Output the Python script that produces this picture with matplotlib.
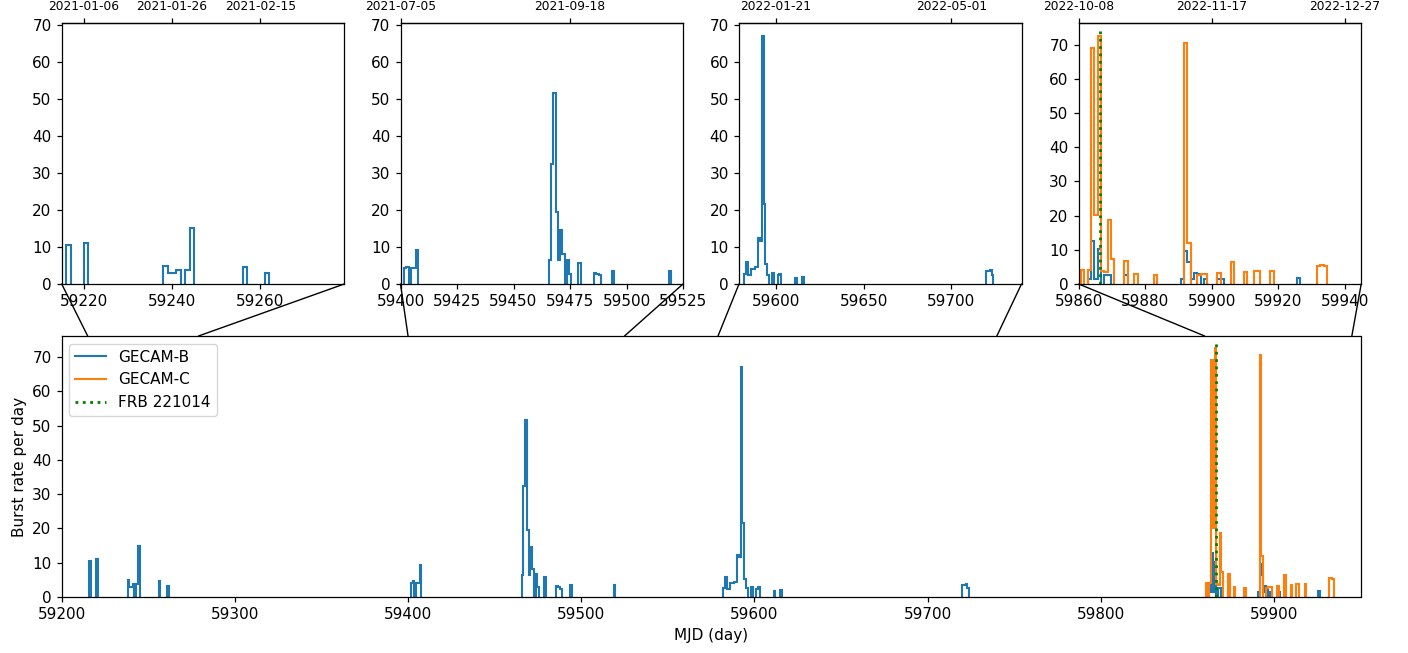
import numpy as np
import matplotlib
matplotlib.use("Agg")
import matplotlib.pyplot as plt
from matplotlib.patches import ConnectionPatch

plt.rcParams["font.family"] = ["DejaVu Sans"]
plt.rcParams["font.size"] = 11
plt.rcParams["axes.linewidth"] = 0.9
plt.rcParams["xtick.major.width"] = 0.9
plt.rcParams["ytick.major.width"] = 0.9
plt.rcParams["xtick.major.size"] = 3.8
plt.rcParams["ytick.major.size"] = 3.8

# ---------------- data (1-day bins, rate per day) ----------------
# GECAM-B episodes: bin start (MJD), day offsets of non-empty bins, rates
B1_start = 59216.0
B1_offsets = [0, 4, 22, 23, 24, 25, 27, 28, 40, 45]
B1_rates = [10.4, 11.2, 4.9, 3.0, 3.0, 3.8, 3.7, 15.0, 4.7, 3.1]

B2_start = 59401.65
B2_offsets = [0, 1, 3, 4, 5, 64, 65, 66, 67, 68, 69, 70, 72, 73, 77, 84, 85, 86, 92, 117]
B2_rates = [4.2, 4.6, 4.2, 4.2, 9.3, 6.5, 32.3, 51.5, 19.4, 6.5, 14.7, 8.1, 6.6, 2.8,
            5.8, 3.1, 2.8, 2.4, 3.6, 3.5]

B3_start = 59582.04
B3_offsets = [0, 1, 2, 3, 4, 5, 6, 7, 8, 9, 10, 11, 12, 13, 16, 19, 20, 29, 33,
              138, 139, 140, 141]
B3_rates = [2.7, 5.9, 2.4, 2.4, 4.0, 4.0, 4.5, 4.5, 12.3, 11.6, 67.0, 21.7, 5.3, 2.5,
            2.9, 2.3, 2.8, 1.7, 2.0, 3.6, 3.4, 3.9, 2.5]

B4_start = 59860.7
B4_offsets = [2, 3, 4, 5, 7, 8, 13, 30, 31, 32, 33, 34, 35, 37, 41, 42, 65]
B4_rates = [1.4, 12.7, 1.4, 10.2, 2.7, 2.7, 2.7, 1.5, 9.6, 6.3, 1.6, 3.1, 3.0, 1.5,
            1.6, 1.6, 1.7]

# GECAM-C
C_start = 59860.7
C_offsets = [0, 2, 3, 4, 5, 6, 7, 8, 9, 13, 16, 22, 31, 32, 35, 36, 37, 41, 45, 49,
             52, 53, 57, 71, 72, 73]
C_rates = [4.0, 4.0, 69.0, 20.2, 72.5, 3.7, 3.5, 18.7, 7.3, 6.6, 3.0, 2.7, 70.5, 12.0,
           2.7, 2.8, 2.9, 3.1, 6.4, 3.5, 3.7, 3.9, 3.9, 5.4, 5.5, 5.2]

FRB_MJD = 59866.44
FRB_TOP = 75.0

main_xlim = (59200, 59950)
main_ylim = (0, 76.1)
main_xticks = [59200, 59300, 59400, 59500, 59600, 59700, 59800, 59900]

inset_xlims = [(59215, 59279), (59400, 59525), (59579, 59740), (59860, 59945)]
inset_ylims = [(0, 70.4), (0, 70.4), (0, 70.4), (0, 76.2)]
inset_xticks = [[59220, 59240, 59260],
                [59400, 59425, 59450, 59475, 59500, 59525],
                [59600, 59650, 59700],
                [59860, 59880, 59900, 59920, 59940]]
inset_top_ticks = [[59220, 59240, 59260], [59400, 59475], [59600, 59700],
                   [59860, 59900, 59940]]
inset_top_labels = [["2021-01-06", "2021-01-26", "2021-02-15"],
                    ["2021-07-05", "2021-09-18"],
                    ["2022-01-21", "2022-05-01"],
                    ["2022-10-08", "2022-11-17", "2022-12-27"]]

B_episodes = [(B1_start, B1_offsets, B1_rates), (B2_start, B2_offsets, B2_rates),
              (B3_start, B3_offsets, B3_rates), (B4_start, B4_offsets, B4_rates)]
C_episodes = [(C_start, C_offsets, C_rates)]


def draw_stairs(ax, start, offsets, rates, color, label=None):
    # split into runs of consecutive non-empty daily bins
    runs = []
    cur_o, cur_r = [offsets[0]], [rates[0]]
    for o, r in zip(offsets[1:], rates[1:]):
        if o == cur_o[-1] + 1:
            cur_o.append(o)
            cur_r.append(r)
        else:
            runs.append((cur_o, cur_r))
            cur_o, cur_r = [o], [r]
    runs.append((cur_o, cur_r))
    for i, (ro, rr) in enumerate(runs):
        edges = start + ro[0] + np.arange(len(rr) + 1)
        ax.stairs(rr, edges, baseline=0, fill=False, color=color, lw=1.5,
                  label=label if i == 0 else None)


def draw_all(ax, with_labels=False):
    for i, (s, o, r) in enumerate(B_episodes):
        draw_stairs(ax, s, o, r, "C0", "GECAM-B" if (with_labels and i == 0) else None)
    for i, (s, o, r) in enumerate(C_episodes):
        draw_stairs(ax, s, o, r, "C1", "GECAM-C" if (with_labels and i == 0) else None)
    ax.vlines(FRB_MJD, 0, FRB_TOP, colors="green", linestyles=":", lw=2,
              label="FRB 221014" if with_labels else None)


W, H = 1408, 653
fig = plt.figure(figsize=(W / 100, H / 100), dpi=100)

main = fig.add_axes([61.7 / W, (H - 597) / H, (1360.5 - 61.7) / W, (597 - 336) / H])
draw_all(main, with_labels=True)
main.set_xlim(*main_xlim)
main.set_ylim(*main_ylim)
main.set_xticks(main_xticks)
main.set_yticks(np.arange(0, 71, 10))
main.set_xlabel("MJD (day)")
main.set_ylabel("Burst rate per day")
main.legend(loc="upper left")

inset_lefts = [61.7, 400.5, 739.0, 1078.7]
inset_w = 282.5
for k in range(4):
    ax = fig.add_axes([inset_lefts[k] / W, (H - 284) / H, inset_w / W, (284 - 23.3) / H])
    draw_all(ax)
    ax.set_xlim(*inset_xlims[k])
    ax.set_ylim(*inset_ylims[k])
    ax.set_xticks(inset_xticks[k])
    ax.set_yticks(np.arange(0, 71, 10))
    sec = ax.secondary_xaxis("top")
    sec.set_xticks(inset_top_ticks[k])
    sec.set_xticklabels(inset_top_labels[k], fontsize=8.8)
    x0, x1 = inset_xlims[k]
    for fx, xd in ((0, x0), (1, x1)):
        con = ConnectionPatch(xyA=(fx, 0), coordsA=ax.transAxes,
                              xyB=(xd, 1), coordsB=main.get_xaxis_transform(),
                              color="black", lw=1.0)
        fig.add_artist(con)

fig.savefig("out.png", dpi=100)
